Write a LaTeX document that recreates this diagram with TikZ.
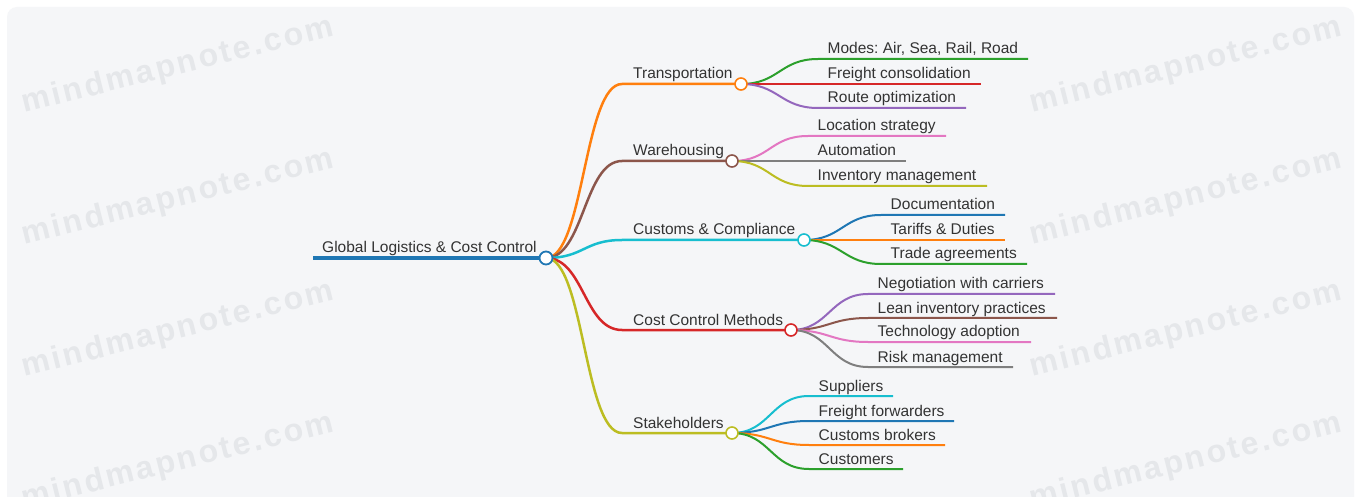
\documentclass[tikz,border=0pt]{standalone}
\usepackage{fontspec}
\setmainfont{Liberation Sans}
\usetikzlibrary{calc}
\frenchspacing
\definecolor{cblue}{HTML}{1F77B4}
\definecolor{corange}{HTML}{FF7F0E}
\definecolor{cgreen}{HTML}{2CA02C}
\definecolor{cred}{HTML}{D62728}
\definecolor{cpurple}{HTML}{9467BD}
\definecolor{cbrown}{HTML}{8C564B}
\definecolor{cpink}{HTML}{E377C2}
\definecolor{cgray}{HTML}{7F7F7F}
\definecolor{colive}{HTML}{BCBD22}
\definecolor{ccyan}{HTML}{17BECF}
\definecolor{bgc}{HTML}{F5F6F8}
\definecolor{wmc}{HTML}{E5E7EA}
\definecolor{txt}{HTML}{333333}
\tikzset{
  lbl/.style={anchor=base west, inner sep=0pt, font=\fontsize{15.5}{18}\selectfont\frenchspacing, text=txt},
  wmark/.style={font=\fontsize{32}{36}\selectfont\bfseries\addfontfeature{LetterSpace=8}, text=wmc, rotate=14, inner sep=0pt},
  lzero/.style={line width=4pt},
  lone/.style={line width=2.5pt},
  ltwo/.style={line width=2pt},
  dotzero/.style={circle, fill=white, line width=1.8pt, minimum size=13pt, inner sep=0pt},
  dotone/.style={circle, fill=white, line width=1.6pt, minimum size=12pt, inner sep=0pt}
}
\newcommand{\leafnode}[7]{%
  \coordinate (#2s) at (#4,#5);
  \coordinate (#2e) at (#6,#5);
  \node[lbl] (#2) at ($(#2s)+(9.5,-5)$) {#7};
  \draw[#3, ltwo] (#1) .. controls ($(#1)+(38,0)$) and ($(#2s)+(-38,0)$) .. (#2s) -- (#2e);
}
\newcommand{\midnode}[6]{%
  \coordinate (#1s) at (622,#3);
  \coordinate (#1) at (#4,#3);
  \node[lbl] (#1t) at ($(#1s)+(11,-5)$) {#5};
  \draw[#2, lone] (R) .. controls ($(R)+(38,0)$) and ($(#1s)+(-38,0)$) .. (#1s) -- (#1);
}
\begin{document}
\begin{tikzpicture}[x=1pt,y=-1pt]
\useasboundingbox (0,0) rectangle (1361,497);
\fill[white] (0,0) rectangle (1361,497);
\begin{scope}
\clip (0,0) rectangle (1361,497);
\fill[bgc, rounded corners=10pt] (7,7) rectangle (1354,530);
\end{scope}
% watermarks
\node[wmark] (w1) at (178,66) {mindmapnote.com};
\node[wmark] (w2) at (178,198) {mindmapnote.com};
\node[wmark] (w3) at (178,330) {mindmapnote.com};
\node[wmark] (w4) at (178,462) {mindmapnote.com};
\node[wmark] (w5) at (1186,66) {mindmapnote.com};
\node[wmark] (w6) at (1186,198) {mindmapnote.com};
\node[wmark] (w7) at (1186,330) {mindmapnote.com};
\node[wmark] (w8) at (1186,462) {mindmapnote.com};
% root
\coordinate (R0) at (313,258);
\coordinate (R) at (546,258);
\node[lbl] (Rt) at (322,253) {Global Logistics \& Cost Control};
\draw[cblue, lzero] (R0) -- (R);
% level 1
\midnode{A}{corange}{84}{741}{Transportation}{}
\midnode{B}{cbrown}{161}{732}{Warehousing}{}
\midnode{C}{ccyan}{240}{804}{Customs \& Compliance}{}
\midnode{D}{cred}{330}{791}{Cost Control Methods}{}
\midnode{E}{colive}{433}{732}{Stakeholders}{}
% level 2
\leafnode{A}{a1}{cgreen}{818}{59}{1028}{Modes: Air, Sea, Rail, Road}
\leafnode{A}{a2}{cred}{818}{84}{981}{Freight consolidation}
\leafnode{A}{a3}{cpurple}{818}{108}{966}{Route optimization}
\leafnode{B}{b1}{cpink}{808}{136}{946}{Location strategy}
\leafnode{B}{b2}{cgray}{808}{161}{906}{Automation}
\leafnode{B}{b3}{colive}{808}{186}{987}{Inventory management}
\leafnode{C}{c1}{cblue}{881}{215}{1005}{Documentation}
\leafnode{C}{c2}{corange}{881}{240}{1005}{Tariffs \& Duties}
\leafnode{C}{c3}{cgreen}{881}{264}{1027}{Trade agreements}
\leafnode{D}{d1}{cpurple}{868}{294}{1055}{Negotiation with carriers}
\leafnode{D}{d2}{cbrown}{868}{318}{1057}{Lean inventory practices}
\leafnode{D}{d3}{cpink}{868}{342}{1031}{Technology adoption}
\leafnode{D}{d4}{cgray}{868}{367}{1013}{Risk management}
\leafnode{E}{e1}{ccyan}{809}{396}{893}{Suppliers}
\leafnode{E}{e2}{cblue}{809}{421}{954}{Freight forwarders}
\leafnode{E}{e3}{corange}{809}{445}{945}{Customs brokers}
\leafnode{E}{e4}{cgreen}{809}{469}{903}{Customers}
% dots
\node[dotzero, draw=cblue] (Rd) at (R) {};
\node[dotone, draw=corange] (Ad) at (A) {};
\node[dotone, draw=cbrown] (Bd) at (B) {};
\node[dotone, draw=ccyan] (Cd) at (C) {};
\node[dotone, draw=cred] (Dd) at (D) {};
\node[dotone, draw=colive] (Ed) at (E) {};
\end{tikzpicture}
\end{document}
